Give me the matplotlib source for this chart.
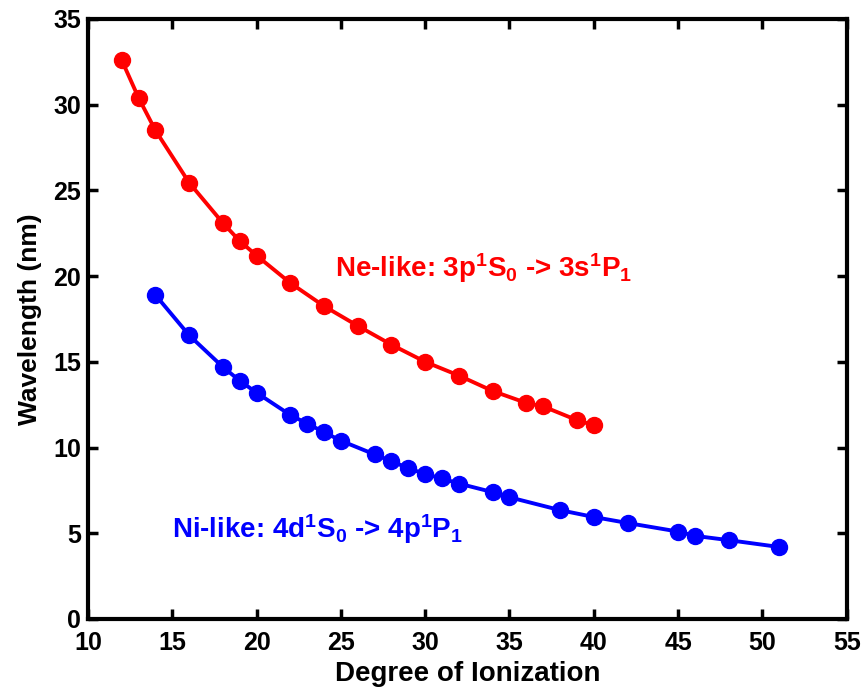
import matplotlib
matplotlib.use("Agg")
import matplotlib.pyplot as plt

# Ne-like: 3p 1S0 -> 3s 1P1
ne_ion = [12, 13, 14, 16, 18, 19, 20, 22, 24, 26, 28, 30, 32, 34, 36, 37, 39, 40]
ne_wl = [32.6, 30.4, 28.5, 25.45, 23.1, 22.05, 21.2, 19.6, 18.25, 17.1,
         16.0, 15.0, 14.2, 13.3, 12.6, 12.4, 11.6, 11.3]

# Ni-like: 4d 1S0 -> 4p 1P1
ni_ion = [14, 16, 18, 19, 20, 22, 23, 24, 25, 27, 28, 29, 30, 31, 32, 34, 35,
          38, 40, 42, 45, 46, 48, 51]
ni_wl = [18.9, 16.55, 14.7, 13.9, 13.2, 11.9, 11.4, 10.9, 10.4, 9.6, 9.2, 8.8,
         8.45, 8.2, 7.9, 7.4, 7.1, 6.35, 5.95, 5.6, 5.1, 4.85, 4.6, 4.2]

xticks = list(range(10, 56, 5))
yticks = list(range(0, 36, 5))

plt.rcParams['font.family'] = ['Liberation Sans', 'DejaVu Sans']
plt.rcParams['font.weight'] = 'bold'
plt.rcParams['mathtext.default'] = 'regular'

fig = plt.figure(figsize=(8.66, 6.90), dpi=100)
ax = fig.add_axes([0.1016, 0.1029, 0.8761, 0.8696])

ax.plot(ne_ion, ne_wl, '-o', color='#ff0000', lw=2.8, ms=11.5)
ax.plot(ni_ion, ni_wl, '-o', color='#0000ff', lw=2.8, ms=11.5)

# labels placed by their left end and baseline
ax.text(24.66, 19.95, r'Ne-like: 3p$^1$S$_0$ -> 3s$^1$P$_1$', color='#ff0000',
        fontsize=20, fontweight='bold', ha='left', va='baseline')
ax.text(14.99, 4.73, r'Ni-like: 4d$^1$S$_0$ -> 4p$^1$P$_1$', color='#0000ff',
        fontsize=20, fontweight='bold', ha='left', va='baseline')

ax.set_xlim(10, 55)
ax.set_ylim(0, 35)
ax.set_xticks(xticks)
ax.set_yticks(yticks)
ax.tick_params(direction='in', length=7, width=2.5, labelsize=18,
               top=True, right=True)
ax.tick_params(axis='x', pad=9)
ax.tick_params(axis='y', pad=5)
for s in ax.spines.values():
    s.set_linewidth(3)

ax.set_xlabel('Degree of Ionization', fontsize=20, fontweight='bold', labelpad=4)
ax.set_ylabel('Wavelength (nm)', fontsize=19, fontweight='bold', labelpad=8)

fig.savefig('out.png', dpi=100)
